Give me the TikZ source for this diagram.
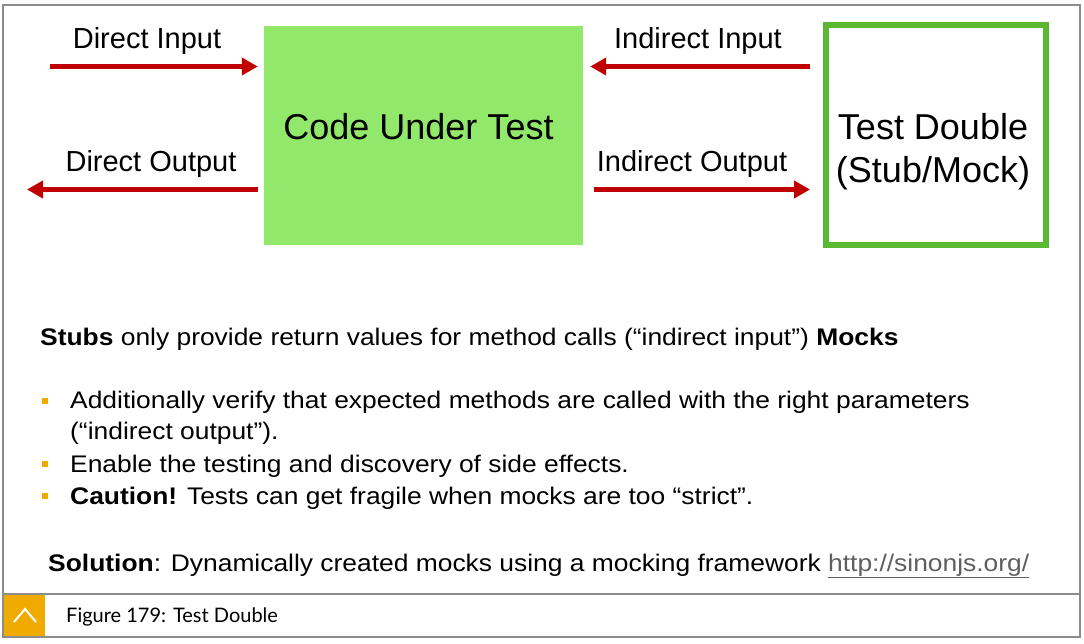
\documentclass[tikz,border=0pt]{standalone}
\usepackage{fontspec}
\setmainfont{Liberation Sans}
\newfontfamily\bodyfont[FakeStretch=1.1]{Liberation Sans}
\newfontfamily\capfont{Lato}
\usepackage{tikz}
\usetikzlibrary{arrows.meta,positioning}
\definecolor{arrowred}{HTML}{C00000}
\definecolor{cutgreen}{HTML}{92E86A}
\definecolor{tdgreen}{HTML}{5AB832}
\definecolor{sapOrange}{HTML}{F0AB00}
\definecolor{framegray}{HTML}{8C8C8C}
\definecolor{linkgray}{HTML}{5F5F5F}
\tikzset{
  redarrow/.style={arrowred, line width=5pt, -{Triangle[length=16pt,width=17pt]}},
  lbl/.style={anchor=base, inner sep=0pt, font=\fontsize{29}{33}\selectfont},
  txt/.style={anchor=base west, inner sep=0pt, font=\bodyfont\fontsize{24}{28}\selectfont},
  bulletsq/.style={fill=sapOrange, minimum size=6pt, inner sep=0pt},
}

\begin{document}
\begin{tikzpicture}[x=1pt,y=1pt]
\useasboundingbox (0,0) rectangle (1084,643);
\draw [framegray, line width=2pt] (3.3,6) rectangle (1079.5,638);
\draw [framegray, line width=2pt] (3.3,49) -- (1079.5,49);
\node (icon) at (24.5,27.5) [fill=sapOrange, minimum size=41pt, inner sep=0pt] {};
\draw [white, line width=2pt] (14,21) -- (25,34) -- (36,21);
\node (caption) at (66,21) [anchor=base west, inner sep=0pt, font=\capfont\fontsize{20}{24}\selectfont] {Figure 179: Test Double};

\node (cut) at (423.5,507.5) [fill=cutgreen, minimum width=319pt, minimum height=219pt] {};
\node at ([xshift=-5pt,yshift=8.5pt]cut.center) [inner sep=0pt, font=\fontsize{36}{40}\selectfont] {Code Under Test};
\node (td) at (936,507.5) [draw=tdgreen, line width=6pt, minimum width=220pt, minimum height=220pt] {};
\node at ([xshift=-3pt,yshift=-16pt]td.center) [align=center, inner sep=0pt, font=\fontsize{36}{43}\selectfont] {Test Double\\(Stub/Mock)};

\coordinate (dinput) at (50,576.5);
\coordinate (doutput) at (27,453.5);
\draw [redarrow, shorten >=6pt] (dinput) -- (dinput -| cut.west);
\draw [redarrow, shorten <=6pt] (doutput -| cut.west) -- (doutput);
\draw [redarrow, shorten <=13pt, shorten >=7pt] (td.west |- dinput) -- (cut.east |- dinput);
\draw [redarrow, shorten <=11pt, shorten >=13pt] (cut.east |- doutput) -- (td.west |- doutput);
\node (dilbl) at (147,594) [lbl] {Direct Input};
\node (dolbl) at (151,471) [lbl] {Direct Output};
\node (iilbl) at (698,594) [lbl] {Indirect Input};
\node (iolbl) at (692,471) [lbl] {Indirect Output};

\node (stubs) at (40,297) [txt] {\textbf{Stubs} only provide return values for method calls (“indirect input”) \textbf{Mocks}};
\node (add) at (70,234) [txt] {Additionally verify that expected methods are called with the right parameters};
\node (add2) at (70,203) [txt] {(“indirect output”).};
\node (enable) at (70,171) [txt] {Enable the testing and discovery of side effects.};
\node (caution) at (70,139) [txt] {\textbf{Caution!} Tests can get fragile when mocks are too “strict”.};
\node (b1) at (45,242) [bulletsq] {};
\node (b2) at (45,179) [bulletsq] {};
\node (b3) at (45,147) [bulletsq] {};
\node (solution) at (48,72) [txt] {\textbf{Solution}: Dynamically created mocks using a mocking framework {\color{linkgray}\underline{http://sinonjs.org/}}};
\end{tikzpicture}
\end{document}
